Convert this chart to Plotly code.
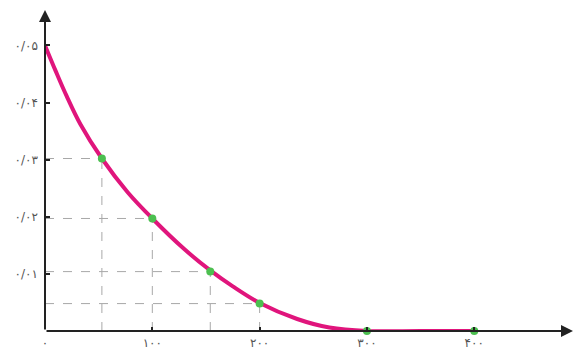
import plotly.graph_objects as go

# Smooth curve
curve_x = [0, 10, 20, 33, 53, 77, 100, 130, 154, 175, 200, 235, 265, 300, 350, 400]
curve_y = [0.05, 0.0455, 0.0412, 0.0362, 0.0302, 0.0243, 0.0197, 0.0143, 0.0106,
           0.0078, 0.0049, 0.0021, 0.0006, 0.0, 0.0, 0.0]

# Marked points
pt_x = [53, 100, 154, 200, 300, 400]
pt_y = [0.0302, 0.0197, 0.0104, 0.0048, 0.0, 0.0]

# Tick labels (Persian digits)
x_tickvals = [0, 100, 200, 300, 400]
x_ticktext = ["۰", "۱۰۰", "۲۰۰", "۳۰۰", "۴۰۰"]
y_tickvals = [0.01, 0.02, 0.03, 0.04, 0.05]
y_ticktext = ["۰/۰۱", "۰/۰۲", "۰/۰۳", "۰/۰۴", "۰/۰۵"]

x_max = 492
y_max = 0.0562

fig = go.Figure()

shapes = []
for xv, yv in zip(pt_x[:4], pt_y[:4]):
    shapes.append(dict(type="line", xref="x", yref="y", x0=0, x1=xv, y0=yv, y1=yv,
                       line=dict(color="#a8a8a8", width=1, dash="dash"), layer="below"))
    shapes.append(dict(type="line", xref="x", yref="y", x0=xv, x1=xv, y0=0, y1=yv,
                       line=dict(color="#a8a8a8", width=1, dash="dash"), layer="below"))

fig.add_trace(go.Scatter(x=curve_x, y=curve_y, mode="lines",
                         line=dict(color="#e0157c", width=4, shape="spline", smoothing=1),
                         hoverinfo="skip", showlegend=False, cliponaxis=False))
fig.add_trace(go.Scatter(x=pt_x, y=pt_y, mode="markers",
                         marker=dict(color="#4cbf50", size=8),
                         showlegend=False, cliponaxis=False))

annotations = [
    dict(x=0, y=y_max, ax=0, ay=0, xref="x", yref="y", axref="x", ayref="y",
         showarrow=True, arrowhead=2, arrowsize=1.2, arrowwidth=2, arrowcolor="#222", text=""),
    dict(x=x_max, y=0, ax=0, ay=0, xref="x", yref="y", axref="x", ayref="y",
         showarrow=True, arrowhead=2, arrowsize=1.2, arrowwidth=2, arrowcolor="#222", text=""),
]

fig.update_layout(
    width=576, height=350,
    margin=dict(l=45, r=3, t=10, b=19, autoexpand=False),
    plot_bgcolor="white", paper_bgcolor="white",
    shapes=shapes, annotations=annotations,
    font=dict(family="DejaVu Sans", size=12, color="#555"),
    xaxis=dict(range=[0, x_max], tickvals=x_tickvals, ticktext=x_ticktext,
               showgrid=False, zeroline=False, showline=False, automargin=False,
               ticks="inside", ticklen=4, tickwidth=2, tickcolor="#222",
               ticklabelstandoff=3),
    yaxis=dict(range=[0, y_max], tickvals=y_tickvals, ticktext=y_ticktext,
               showgrid=False, zeroline=False, showline=False, automargin=False,
               ticks="inside", ticklen=5, tickwidth=2, tickcolor="#222",
               ticklabelstandoff=6),
)

fig.write_html("out.html", config={"displayModeBar": False},
               post_script="document.body.style.margin='0';document.body.style.overflow='hidden';")
